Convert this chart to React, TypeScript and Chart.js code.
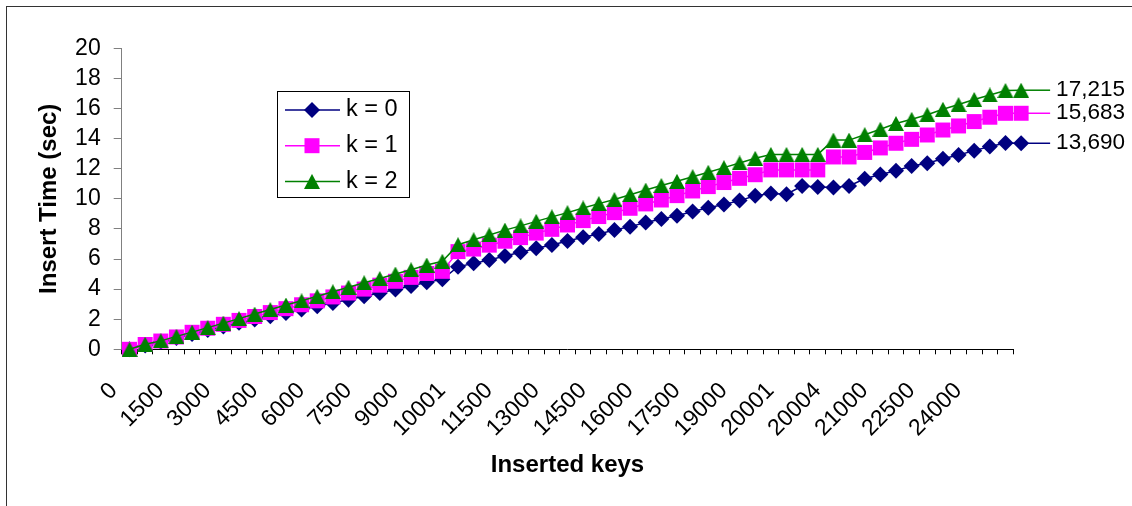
import React, { useEffect, useRef } from 'react';
import { Chart, registerables } from 'chart.js';

Chart.register(...registerables);

// ---- data ----
const insertedKeys = [
  0, 500, 1000, 1500, 2000, 2500, 3000, 3500, 4000, 4500, 5000, 5500, 6000, 6500, 7000, 7500,
  8000, 8500, 9000, 9500, 10000, 10001, 10500, 11000, 11500, 12000, 12500, 13000, 13500, 14000,
  14500, 15000, 15500, 16000, 16500, 17000, 17500, 18000, 18500, 19000, 19500, 20000, 20001,
  20002, 20003, 20004, 20005, 20500, 21000, 21500, 22000, 22500, 23000, 23500, 24000, 24500, 25000,
];

const timeK0 = [
  0, 0.25, 0.5, 0.75, 1.02, 1.28, 1.52, 1.76, 1.98, 2.2, 2.42, 2.64, 2.86, 3.08, 3.3, 3.52,
  3.74, 3.98, 4.2, 4.45, 4.65, 5.49, 5.71, 5.94, 6.2, 6.45, 6.71, 6.93, 7.2, 7.44, 7.66, 7.93,
  8.15, 8.42, 8.66, 8.88, 9.15, 9.4, 9.62, 9.88, 10.2, 10.35, 10.3, 10.85, 10.78, 10.75, 10.85,
  11.33, 11.62, 11.87, 12.18, 12.36, 12.66, 12.91, 13.2, 13.48, 13.7, 13.69,
];

const timeK1 = [
  0, 0.32, 0.55, 0.82, 1.13, 1.4, 1.66, 1.92, 2.18, 2.44, 2.7, 2.96, 3.22, 3.48, 3.74, 4.0,
  4.26, 4.52, 4.78, 5.04, 5.18, 6.49, 6.66, 6.92, 7.18, 7.42, 7.72, 7.97, 8.26, 8.55, 8.82, 9.08,
  9.37, 9.66, 9.92, 10.21, 10.52, 10.81, 11.08, 11.36, 11.6, 11.92, 11.92, 11.92, 11.92, 12.78,
  12.78, 13.08, 13.38, 13.69, 13.95, 14.24, 14.57, 14.84, 15.13, 15.42, 15.68, 15.683,
];

const timeK2 = [
  0, 0.34, 0.56, 0.86, 1.14, 1.44, 1.74, 2.04, 2.34, 2.64, 2.94, 3.22, 3.52, 3.82, 4.12, 4.42,
  4.7, 5.0, 5.28, 5.6, 5.85, 6.95, 7.28, 7.6, 7.92, 8.2, 8.5, 8.8, 9.08, 9.39, 9.68, 9.95,
  10.27, 10.58, 10.88, 11.16, 11.47, 11.76, 12.07, 12.38, 12.69, 12.95, 12.95, 12.95, 12.95, 13.9,
  13.9, 14.26, 14.62, 15.0, 15.28, 15.59, 15.95, 16.26, 16.6, 16.9, 17.2, 17.215,
];

const seriesNames = ['k = 0', 'k = 1', 'k = 2'];
const seriesValues = [timeK0, timeK1, timeK2];
const seriesColors = ['#000080', '#FF00FF', '#008000'];

const yMin = 0;
const yMax = 20;
const yStep = 2;
const xLabelEvery = 3;

const FONT = '"Liberation Sans", Arial, Helvetica, sans-serif';

function makeTriangle(color: string, w: number, h: number) {
  const c = document.createElement('canvas');
  c.width = w;
  c.height = h;
  const g = c.getContext('2d')!;
  g.fillStyle = color;
  g.beginPath();
  g.moveTo(w / 2, 0);
  g.lineTo(w, h);
  g.lineTo(0, h);
  g.closePath();
  g.fill();
  return c;
}

function drawMarker(ctx: CanvasRenderingContext2D, style: any, x: number, y: number, color: string, r: number) {
  ctx.save();
  ctx.fillStyle = color;
  if (style === 'rectRot') {
    ctx.beginPath();
    ctx.moveTo(x, y - r);
    ctx.lineTo(x + r, y);
    ctx.lineTo(x, y + r);
    ctx.lineTo(x - r, y);
    ctx.closePath();
    ctx.fill();
  } else if (style === 'rect') {
    const s = Math.SQRT1_2 * r;
    ctx.fillRect(x - s, y - s, 2 * s, 2 * s);
  } else if (style && style.width) {
    ctx.drawImage(style, x - style.width / 2, y - style.height / 2, style.width, style.height);
  }
  ctx.restore();
}

const overlayPlugin = {
  id: 'overlay',
  afterDatasetsDraw(chart: any) {
    const ctx: CanvasRenderingContext2D = chart.ctx;
    const ca = chart.chartArea;
    // end-of-series value labels
    chart.data.datasets.forEach((ds: any, i: number) => {
      const meta = chart.getDatasetMeta(i);
      const pt = meta.data[meta.data.length - 1];
      const v = ds.data[ds.data.length - 1].y;
      ctx.save();
      ctx.strokeStyle = ds.borderColor;
      ctx.lineWidth = ds.borderWidth;
      ctx.beginPath();
      ctx.moveTo(pt.x, pt.y);
      ctx.lineTo(pt.x + 29, pt.y);
      ctx.stroke();
      ctx.fillStyle = '#000';
      ctx.font = `22.5px ${FONT}`;
      ctx.textAlign = 'left';
      ctx.textBaseline = 'middle';
      ctx.fillText(v.toFixed(3).replace('.', ','), pt.x + 35, pt.y);
      ctx.restore();
    });
    // legend box
    const lx = Math.round(ca.left + 155);
    const ly = Math.round(ca.top + 42.5);
    const lw = 132;
    const lh = 106;
    ctx.save();
    ctx.fillStyle = '#fff';
    ctx.fillRect(lx, ly, lw, lh);
    ctx.strokeStyle = '#000';
    ctx.lineWidth = 1;
    ctx.strokeRect(lx + 0.5, ly + 0.5, lw, lh);
    chart.data.datasets.forEach((ds: any, i: number) => {
      const ry = ly + 19 + i * 35.7;
      ctx.strokeStyle = ds.borderColor;
      ctx.lineWidth = ds.borderWidth;
      ctx.beginPath();
      ctx.moveTo(lx + 8, ry);
      ctx.lineTo(lx + 63, ry);
      ctx.stroke();
      drawMarker(ctx, ds.pointStyle, lx + 35, ry, ds.pointBackgroundColor, ds.pointRadius);
      ctx.fillStyle = '#000';
      ctx.font = `23.5px ${FONT}`;
      ctx.textAlign = 'left';
      ctx.textBaseline = 'middle';
      ctx.fillText(ds.label, lx + 69, ry);
    });
    ctx.restore();
  },
};

export default function App() {
  const ref = useRef<HTMLCanvasElement>(null);

  useEffect(() => {
    if (!ref.current) return;
    Chart.defaults.font.family = FONT;
    const tri = makeTriangle(seriesColors[2], 16, 15);
    const styles: any[] = ['rectRot', 'rect', tri];
    const radii = [8, 10.6, 8];

    const datasets = seriesValues.map((vals, s) => ({
      label: seriesNames[s],
      data: vals.map((v, i) => ({ x: i + 0.5, y: v })),
      borderColor: seriesColors[s],
      backgroundColor: seriesColors[s],
      borderWidth: 1.5,
      pointStyle: styles[s],
      pointRadius: radii[s],
      pointHoverRadius: 12,
      pointBorderWidth: 0,
      pointBackgroundColor: seriesColors[s],
      pointBorderColor: seriesColors[s],
      tension: 0,
      clip: false as any,
      order: 3 - s,
    }));

    const chart = new Chart(ref.current, {
      type: 'line',
      data: { datasets },
      options: {
        responsive: false,
        animation: false,
        devicePixelRatio: 1,
        events: [],
        layout: { padding: { left: 35, right: 118.7, top: 48.3, bottom: 26.7 } },
        plugins: { legend: { display: false }, tooltip: { enabled: false } },
        scales: {
          x: {
            type: 'linear',
            min: 0,
            max: insertedKeys.length,
            afterFit: (s: any) => {
              s.height = 130;
            },
            grid: { drawOnChartArea: false, drawTicks: true, tickLength: 5, color: '#000', lineWidth: 1 },
            border: { display: true, color: '#000', width: 1 },
            ticks: {
              stepSize: 1,
              autoSkip: false,
              minRotation: 45,
              maxRotation: 45,
              padding: 23,
              labelOffset: -8,
              color: '#000',
              font: { size: 23, family: FONT },
              callback: (v: any) => {
                const i = Number(v);
                return Number.isInteger(i) && i % xLabelEvery === 0 && i < insertedKeys.length
                  ? String(insertedKeys[i])
                  : '';
              },
            },
            title: {
              display: true,
              text: 'Inserted keys',
              color: '#000',
              font: { size: 24, weight: 'bold', family: FONT },
              padding: 0,
            },
          },
          y: {
            min: yMin,
            max: yMax,
            afterFit: (s: any) => {
              s.width = 86.7;
            },
            grid: { drawOnChartArea: false, drawTicks: true, tickLength: 8, color: '#808080' },
            border: { display: true, color: '#808080', width: 1 },
            ticks: {
              stepSize: yStep,
              autoSkip: false,
              padding: 13,
              color: '#000',
              font: { size: 23, family: FONT },
            },
            title: {
              display: true,
              text: 'Insert Time (sec)',
              color: '#000',
              font: { size: 24, weight: 'bold', family: FONT },
              padding: 0,
            },
          },
        },
      },
      plugins: [overlayPlugin],
    } as any);
    return () => chart.destroy();
  }, []);

  return (
    <div
      style={{
        position: 'fixed',
        left: 0,
        top: 0,
        width: 1132,
        height: 506,
        background: '#fff',
        overflow: 'hidden',
      }}
    >
      <canvas ref={ref} width={1132} height={506} style={{ position: 'absolute', left: 0, top: 0, display: 'block' }} />
      <div
        style={{
          position: 'absolute',
          left: 6,
          top: 6,
          right: 0,
          bottom: 0,
          borderLeft: '1px solid #333',
          borderTop: '1px solid #333',
          pointerEvents: 'none',
        }}
      />
    </div>
  );
}
